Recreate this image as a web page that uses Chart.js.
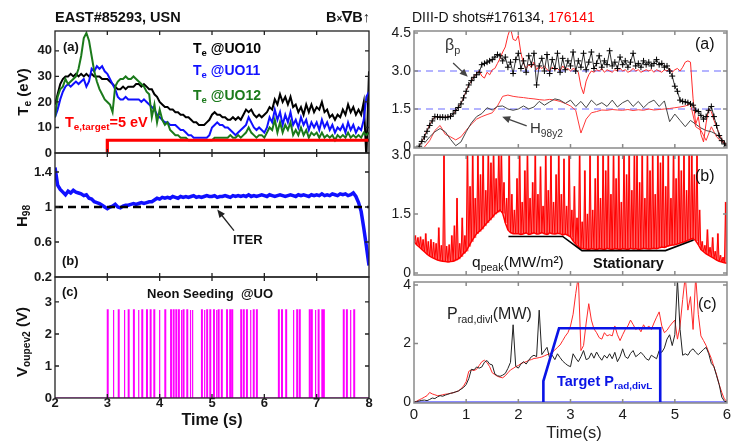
<!DOCTYPE html>
<html>
<head>
<meta charset="utf-8">
<title>EAST / DIII-D detachment control</title>
<script src="https://cdn.jsdelivr.net/npm/chart.js@4.4.1/dist/chart.umd.min.js"></script>
<style>
  body { margin: 0; background: #fff; }
  #page { position: relative; width: 731px; height: 441px; overflow: hidden; font-family: "Liberation Sans", Arial, sans-serif; color: #111; }
  canvas { position: absolute; }
  .t { position: absolute; white-space: nowrap; line-height: 1; }
  .b { font-weight: bold; }
  .t sub { font-size: 68%; vertical-align: -0.35em; line-height: 0; }
  .rot { transform: translate(-50%, -50%) rotate(-90deg); }
  .ctr { transform: translateX(-50%); }
</style>
</head>
<body>
<div id="page">
  <canvas id="eastTe"></canvas>
  <canvas id="eastH98"></canvas>
  <canvas id="eastNeon"></canvas>
  <canvas id="diiiBeta"></canvas>
  <canvas id="diiiQ"></canvas>
  <canvas id="diiiPrad"></canvas>

  <div class="t b" style="left:55px;top:10px;font-size:14.5px">EAST#85293, USN</div>
  <div class="t b" style="left:326px;top:10px;font-size:14.5px">B<span style="font-size:10px">×</span>∇B↑</div>
  <div class="t b" style="left:63px;top:40px;font-size:13px">(a)</div>
  <div class="t b" style="left:193px;top:41px;font-size:14px;color:#000">T<sub>e</sub> @UO10</div>
  <div class="t b" style="left:193px;top:63px;font-size:14px;color:#1010ff">T<sub>e</sub> @UO11</div>
  <div class="t b" style="left:193px;top:88px;font-size:14px;color:#1b7a1b">T<sub>e</sub> @UO12</div>
  <div class="t b" style="left:65px;top:115px;font-size:14.5px;color:#ff0000">T<sub>e,target</sub>=5 eV</div>
  <div class="t b rot" style="left:22px;top:92px;font-size:15px">T<sub>e</sub> (eV)</div>

  <div class="t b" style="left:233px;top:233px;font-size:13px">ITER</div>
  <div class="t b" style="left:62px;top:254px;font-size:13px">(b)</div>
  <div class="t b rot" style="left:21px;top:216px;font-size:15px">H<sub>98</sub></div>

  <div class="t b" style="left:62px;top:285px;font-size:13px">(c)</div>
  <div class="t b" style="left:147px;top:287px;font-size:13px">Neon Seeding&nbsp; @UO</div>
  <div class="t b rot" style="left:21px;top:342px;font-size:15px">V<sub>oupev2</sub> (V)</div>
  <div class="t b ctr" style="left:212px;top:412px;font-size:16px">Time (s)</div>

  <div class="t" style="left:412px;top:10px;font-size:14px">DIII-D shots#176134, <span style="color:#ff0000">176141</span></div>
  <div class="t" style="left:695px;top:36px;font-size:16px">(a)</div>
  <div class="t" style="left:445px;top:37px;font-size:16px;color:#333">β<sub>p</sub></div>
  <div class="t" style="left:530px;top:120px;font-size:15px;color:#333">H<sub>98y2</sub></div>
  <div class="t" style="left:695px;top:168px;font-size:16px">(b)</div>
  <div class="t" style="left:472px;top:254px;font-size:15.5px">q<sub>peak</sub>(MW/m²)</div>
  <div class="t b" style="left:593px;top:256px;font-size:14.5px">Stationary</div>
  <div class="t" style="left:698px;top:296px;font-size:16px">(c)</div>
  <div class="t" style="left:447px;top:306px;font-size:16px;color:#222">P<sub>rad,divl</sub>(MW)</div>
  <div class="t b" style="left:557px;top:374px;font-size:14.5px;color:#0a14e6">Target P<sub>rad,divL</sub></div>
  <div class="t ctr" style="left:574px;top:424px;font-size:16.5px;color:#222">Time(s)</div>
</div>

<script>
"use strict";

// ---------- EAST #85293, samples every 0.05 s from 2 s to 8 s ----------
const eastT0 = 2, eastDt = 0.05;

const eastTeUO10 = [
    19, 23, 27, 29, 30, 30, 31, 30, 31, 30,
    31, 30, 31, 30, 31, 30, 30, 30, 29, 29,
    29, 28, 27, 26, 25, 25, 26, 25, 26, 26,
    26, 27, 27, 26, 27, 26, 25, 25, 23, 22,
    20, 19, 18, 18, 17, 17, 16, 16, 15, 15,
    14, 14, 13, 12, 12, 11, 11, 11, 12, 13,
    15, 16, 15, 15, 14, 14, 13, 13, 14, 13,
    14, 13, 15, 17, 16, 17, 15, 14, 15, 14,
    15, 16, 18, 17, 21, 19, 23, 20, 22, 19,
    22, 18, 19, 16, 18, 15, 19, 16, 19, 16,
    18, 17, 20, 16, 17, 14, 15, 13, 15, 14,
    17, 15, 19, 16, 18, 15, 17, 15, 20, -2,
    32
];
const eastTeUO11 = [
    14, 17, 21, 24, 26, 27, 26, 27, 28, 27,
    28, 29, 26, 28, 33, 32, 34, 33, 34, 32,
    31, 29, 27, 25, 22, 21, 21, 22, 21, 21,
    21, 21, 21, 20, 21, 20, 19, 18, 17, 15,
    14, 13, 12, 12, 11, 11, 11, 10, 9, 9,
    8, 7, 7, 6, 6, 6, 6, 6, 6, 7,
    10, 11, 12, 11, 11, 10, 10, 9, 8, 7,
    8, 9, 10, 11, 14, 12, 10, 9, 10, 9,
    8, 10, 14, 12, 17, 13, 16, 11, 15, 12,
    16, 11, 13, 10, 14, 11, 13, 9, 12, 10,
    12, 9, 13, 10, 12, 9, 11, 8, 10, 9,
    11, 8, 12, 9, 11, 8, 10, 9, 13, 22,
    24
];
const eastTeUO12 = [
    14, 22, 25, 26, 29, 27, 28, 29, 30, 33,
    38, 45, 47, 44, 38, 32, 28, 25, 23, 21,
    20, 19, 16, 26, 28, 29, 29, 30, 29, 29,
    30, 29, 28, 27, 26, 24, 23, 14, 19, 12,
    17, 13, 11, 12, 9, 8, 7, 7, 6, 6,
    6, 5, 5, 5, 5, 5, 5, 5, 5, 5,
    5, 6, 6, 6, 6, 6, 6, 7, 6, 6,
    7, 6, 7, 8, 10, 8, 7, 6, 7, 7,
    6, 8, 10, 9, 13, 8, 12, 8, 11, 9,
    12, 7, 9, 7, 10, 7, 9, 6, 8, 7,
    8, 6, 8, 6, 7, 6, 7, 5, 7, 6,
    7, 6, 8, 6, 7, 6, 7, 6, 8, 7,
    8
];
const eastTargetTime = [3, 3, 8];
const eastTargetTe = [0, 5, 5];

const eastH98 = [
    1.45, 1.25, 1.20, 1.17, 1.14, 1.18, 1.16, 1.19, 1.17, 1.16,
    1.15, 1.13, 1.14, 1.10, 1.09, 1.06, 1.05, 1.04, 1.02, 1.00,
    0.98, 1.00, 1.01, 1.03, 1.00, 0.99, 1.01, 1.02, 1.02, 1.03,
    1.04, 1.03, 1.04, 1.05, 1.04, 1.05, 1.06, 1.06, 1.08, 1.10,
    1.09, 1.11, 1.10, 1.11, 1.10, 1.12, 1.11, 1.10, 1.12, 1.11,
    1.12, 1.11, 1.12, 1.13, 1.11, 1.12, 1.11, 1.12, 1.13, 1.12,
    1.12, 1.13, 1.11, 1.12, 1.12, 1.13, 1.12, 1.11, 1.13, 1.12,
    1.13, 1.12, 1.13, 1.12, 1.14, 1.12, 1.13, 1.12, 1.13, 1.14,
    1.13, 1.12, 1.14, 1.13, 1.12, 1.13, 1.14, 1.13, 1.12, 1.13,
    1.14, 1.13, 1.12, 1.14, 1.13, 1.14, 1.13, 1.12, 1.14, 1.13,
    1.14, 1.13, 1.15, 1.13, 1.14, 1.13, 1.15, 1.14, 1.13, 1.15,
    1.14, 1.15, 1.13, 1.14, 1.16, 1.12, 1.05, 0.95, 0.76, 0.55,
    0.33
];
const eastIterH98 = 1;

const neonPulseTimes = [
    3.00, 3.11, 3.21, 3.32, 3.40, 3.50, 3.59, 3.66, 3.75, 3.82, 3.89, 3.99, 4.10,
    4.21, 4.26, 4.31, 4.36, 4.41, 4.45, 4.52, 4.58, 4.62,
    4.80, 4.85, 4.90, 4.96, 5.03, 5.08, 5.12, 5.18, 5.28, 5.34, 5.38,
    5.55, 5.60, 5.66, 5.73, 5.79, 5.85,
    6.27, 6.33, 6.41, 6.55, 6.62, 6.67,
    6.86, 6.90, 6.97, 7.03, 7.10, 7.13,
    7.51, 7.57, 7.64, 7.71
];
const neonPulseVolts = 2.75;
const neonPulseWidth = 0.015;

const eastTimeTicks = [2, 3, 4, 5, 6, 7, 8];
const eastTeTicks = [0, 10, 20, 30, 40];
const eastH98Ticks = [0.2, 0.6, 1, 1.4];
const eastVoltTicks = [0, 1, 2, 3];

// ---------- DIII-D #176134 (black) / #176141 (red), 0 - 6 s ----------
const diiiT0 = 0, diiiDt = 0.05, diiiDtCoarse = 0.1;

const betaP176134 = [
    null, null, 0.03, 0.22, 0.40, 0.62, 0.85, 1.03, 1.20, 1.19,
    1.17, 1.18, 1.16, 1.18, 1.21, 1.31, 1.44, 1.56, 1.70, 1.94,
    2.20, 2.45, 2.62, 2.75, 2.85, 2.95, 3.25, 3.30, 3.35, 3.40,
    3.45, 3.55, 3.65, 3.60, 3.40, 3.55, 3.15, 3.35, 2.90, 3.45,
    3.70, 3.10, 3.40, 2.95, 3.60, 3.25, 3.70, 2.45, 3.20, 3.50,
    3.00, 3.65, 2.90, 3.45, 3.10, 3.70, 2.95, 3.50, 3.05, 3.40,
    3.20, 3.75, 3.00, 3.40, 3.15, 3.70, 3.05, 3.35, 3.75, 3.10,
    3.30, 3.60, 3.15, 3.40, 3.25, 3.80, 3.20, 3.35, 3.10, 3.55,
    3.25, 3.40, 3.15, 3.35, 3.70, 3.20, 3.30, 3.15, 3.40, 3.25,
    3.35, 3.20, 3.30, 3.45, 3.25, 3.30, 3.15, 3.20, 3.00, 2.80,
    2.40, 2.20, 1.85, 1.80, 1.78, 1.75, 1.70, 1.65, 1.45, 1.40,
    1.25, 1.10, 1.20, 1.45, 1.60, 1.20, 0.85, 0.45, 0.25, 0.12,
    0.05
];
const betaP176141 = [
    null, null, 0.03, 0.20, 0.42, 0.65, 0.88, 1.05, 1.20, 1.18,
    1.18, 1.17, 1.17, 1.19, 1.22, 1.30, 1.42, 1.58, 1.72, 1.95,
    2.20, 2.45, 2.60, 2.78, 2.90, 3.00, 2.80, 2.72, 2.95, 2.85,
    3.05, 3.10, 3.30, 3.50, 3.75, 3.95, 4.40, 4.70, 4.25, 4.20,
    4.40, 3.70, 3.30, 3.10, 3.25, 3.15, 3.35, 3.05, 3.20, 3.10,
    3.20, 3.05, 3.00, 3.15, 3.05, 3.10, 3.00, 3.20, 3.05, 3.10,
    3.00, 3.10, 3.05, 2.95, 2.40, 2.10, 2.60, 2.85, 3.00, 2.95,
    3.05, 3.00, 3.10, 2.95, 3.05, 3.00, 2.95, 3.05, 3.00, 3.10,
    3.00, 3.05, 2.95, 3.00, 3.10, 3.00, 3.05, 2.95, 3.00, 3.05,
    3.00, 3.05, 2.95, 3.05, 3.00, 2.95, 3.05, 3.00, 3.10, 2.95,
    3.05, 3.10, 3.00, 3.15, 3.35, 3.40, 3.35, 1.90, 0.90, 1.20,
    0.50, 0.20, 0.95, 1.50, 1.40, 1.05, 0.80, 0.50, 0.30, 0.15,
    0.05
];
// every 0.1 s
const h98y2_176134 = [
    null, null, 0.15, 0.40, 0.60, 0.73, 0.60, 0.30, 0.05, 0.20,
    0.60, 0.95, 1.20, 1.32, 1.55, 1.46, 1.60, 1.62, 1.50, 1.45,
    1.50, 1.62, 1.50, 1.58, 1.80, 1.65, 1.78, 1.90, 1.85, 1.72,
    1.85, 1.60, 1.80, 1.55, 1.85, 1.65, 1.75, 1.60, 1.85, 1.58,
    1.75, 1.85, 1.60, 1.80, 1.55, 1.75, 1.85, 1.60, 1.82, 1.00,
    1.30, 1.05, 0.80, 1.05, 0.90, 0.75, 0.65, 0.60, 0.50, 0.30,
    0.10
];
const h98y2_176141 = [
    null, null, 0.00, 0.25, 0.65, 0.85, 0.50, 0.40, 0.28, 0.40,
    0.66, 0.90, 1.10, 1.20, 1.28, 1.35, 1.62, 2.00, 2.05, 2.00,
    1.97, 1.95, 1.92, 1.90, 1.87, 1.85, 1.88, 1.85, 1.80, 1.72,
    1.62, 1.45, 0.55, 1.10, 1.35, 1.40, 1.46, 1.45, 1.48, 1.46,
    1.45, 1.48, 1.44, 1.47, 1.45, 1.50, 1.46, 1.48, 1.50, 1.52,
    1.55, 1.58, 1.62, 1.70, 0.80, 0.66, 0.26, 0.80, 0.40, 0.20,
    0.10
];
const betaRefLevels = [3.0, 1.5];

// q_peak: lower envelope every 0.05 s, spike tops half way between
const qpeakBase = [
    0.80, 0.72, 0.66, 0.60, 0.54, 0.48, 0.43, 0.39, 0.36, 0.33,
    0.31, 0.30, 0.29, 0.28, 0.29, 0.30, 0.33, 0.36, 0.42, 0.50,
    0.56, 0.68, 0.80, 0.90, 1.00, 1.06, 1.12, 1.20, 1.28, 1.35,
    1.42, 1.50, 1.55, 1.60, 1.52, 1.28, 1.10, 1.03, 1.00, 1.00,
    1.00, 0.98, 1.00, 1.02, 0.98, 1.00, 1.02, 0.99, 1.00, 1.03,
    1.00, 0.98, 1.02, 1.00, 0.99, 1.01, 1.00, 0.97, 0.99, 0.96,
    0.92, 0.82, 0.74, 0.67, 0.63, 0.62, 0.61, 0.60, 0.62, 0.61,
    0.60, 0.62, 0.61, 0.60, 0.63, 0.61, 0.60, 0.62, 0.61, 0.60,
    0.62, 0.61, 0.60, 0.63, 0.61, 0.62, 0.60, 0.61, 0.63, 0.62,
    0.61, 0.62, 0.63, 0.62, 0.64, 0.66, 0.65, 0.68, 0.70, 0.71,
    0.72, 0.74, 0.76, 0.78, 0.80, 0.83, 0.86, 0.88, 0.82, 0.72,
    0.60, 0.54, 0.49, 0.45, 0.41, 0.37, 0.33, 0.30, 0.28, 0.26,
    0.25
];
const qpeakSpike = [
    0.95, 0.90, 0.92, 0.85, 1.00, 0.80, 0.85, 0.78, 0.75, 1.15,
    0.70, 3.10, 0.68, 0.72, 0.95, 1.20, 1.90, 0.75, 1.40, 0.95,
    3.10, 2.20, 3.10, 1.90, 3.10, 2.50, 3.10, 2.10, 3.10, 2.80,
    3.10, 2.40, 3.10, 3.10, 2.30, 1.90, 3.10, 2.00, 1.60, 2.40,
    3.10, 1.80, 2.60, 3.10, 1.90, 2.30, 3.10, 2.00, 2.70, 1.70,
    3.10, 2.10, 3.10, 1.80, 2.50, 3.10, 2.00, 2.90, 1.70, 3.10,
    1.60, 2.20, 1.40, 3.10, 1.30, 2.60, 1.50, 3.10, 1.60, 2.40,
    3.10, 1.90, 3.10, 2.60, 3.10, 2.00, 3.10, 2.40, 3.10, 1.80,
    3.10, 2.50, 3.10, 2.10, 3.10, 3.10, 2.30, 3.10, 1.90, 3.10,
    2.60, 3.10, 2.00, 3.10, 2.80, 3.10, 2.20, 3.10, 1.90, 3.10,
    2.40, 3.10, 2.60, 3.10, 2.10, 3.10, 3.10, 2.50, 3.10, 1.60,
    0.80, 0.70, 1.10, 0.65, 0.90, 0.55, 1.00, 0.45, 0.40, 1.80
];
const stationaryTime = [1.81, 2.85, 3.22, 4.82, 5.36];
const stationaryQ = [0.93, 0.93, 0.57, 0.57, 0.84];

const pradDivl176134 = [
    0.00, 0.02, 0.04, 0.06, 0.07, 0.05, 0.09, 0.14, 0.12, 0.18,
    0.22, 0.20, 0.24, 0.27, 0.30, 0.32, 0.35, 0.38, 0.44, 0.50,
    0.60, 0.80, 1.12, 1.10, 1.20, 1.16, 1.20, 1.36, 1.42, 1.30,
    1.27, 0.96, 0.90, 0.88, 0.92, 0.98, 1.15, 1.36, 2.64, 1.22,
    1.16, 1.30, 1.38, 1.30, 1.43, 1.55, 1.60, 1.55, 3.14, 1.62,
    1.75, 1.87, 1.50, 1.60, 1.45, 1.65, 1.52, 1.40, 1.32, 1.25,
    1.21, 1.65, 1.50, 1.38, 1.55, 1.76, 1.45, 1.49, 1.68, 1.50,
    1.71, 1.55, 1.43, 1.60, 1.50, 1.65, 1.48, 1.70, 1.38, 1.55,
    1.82, 1.55, 1.49, 1.66, 1.76, 1.55, 1.62, 1.70, 1.60, 1.48,
    1.43, 1.60, 1.54, 1.48, 1.76, 1.70, 1.85, 2.15, 2.30, 1.93,
    2.30, 4.20, 2.48, 1.60, 1.65, 1.60, 1.75, 1.82, 1.70, 1.62,
    1.71, 1.80, 1.87, 1.65, 1.32, 1.21, 0.90, 0.60, 0.17, 0.03,
    0.01
];
const pradDivl176141 = [
    0.00, 0.03, 0.08, 0.12, 0.17, 0.22, 0.33, 0.28, 0.25, 0.22,
    0.23, 0.25, 0.27, 0.28, 0.30, 0.32, 0.35, 0.38, 0.45, 0.55,
    0.70, 1.05, 1.10, 1.08, 1.12, 1.25, 1.38, 1.43, 1.35, 1.21,
    1.00, 0.94, 0.88, 0.85, 0.83, 0.90, 1.00, 1.10, 1.15, 1.21,
    1.25, 1.32, 1.35, 1.38, 1.43, 1.45, 1.49, 1.50, 1.52, 1.54,
    1.58, 1.62, 1.65, 1.70, 1.78, 1.87, 1.95, 2.10, 2.25, 2.37,
    2.60, 3.00, 3.70, 4.30, 1.76, 1.93, 2.70, 3.36, 2.80, 2.50,
    2.37, 2.20, 2.15, 2.37, 2.26, 2.30, 2.26, 2.60, 2.30, 2.10,
    2.30, 2.48, 2.60, 2.80, 2.65, 2.48, 2.55, 2.40, 2.64, 2.50,
    2.60, 2.48, 2.70, 2.90, 3.08, 2.60, 2.37, 2.45, 2.59, 2.70,
    2.80, 2.15, 2.60, 3.50, 4.30, 3.14, 3.60, 2.48, 4.30, 3.00,
    2.26, 2.10, 1.93, 1.70, 1.49, 1.20, 0.94, 0.60, 0.33, 0.10,
    0.03
];
const targetPradTime = [2.48, 2.48, 2.78, 4.72, 4.72];
const targetPradMW = [0, 0.72, 2.52, 2.52, 0];

const diiiTimeTicks = [0, 1, 2, 3, 4, 5, 6];
const diiiBetaTicks = [0, 1.5, 3, 4.5];
const diiiQTicks = [0, 1.5, 3];
const diiiPradTicks = [0, 2, 4];

// ---------- helpers ----------
function onGrid(t0, dt, values) {
    return values.map(function (v, i) { return { x: t0 + i * dt, y: v }; });
}

function pairs(xs, ys) {
    return xs.map(function (x, i) { return { x: x, y: ys[i] }; });
}

function level(y, x0, x1) {
    return [{ x: x0, y: y }, { x: x1, y: y }];
}

function pulseTrain(times, width, height, t0, t1) {
    var pts = [{ x: t0, y: 0 }];
    times.forEach(function (t) {
        pts.push({ x: t, y: 0 }, { x: t, y: height }, { x: t + width, y: height }, { x: t + width, y: 0 });
    });
    pts.push({ x: t1, y: 0 });
    return pts;
}

function spikyTrace(t0, dt, base, spikes) {
    var pts = [];
    base.forEach(function (b, i) {
        var t = t0 + i * dt;
        pts.push({ x: t, y: b });
        if (i < spikes.length) pts.push({ x: t + dt / 2, y: spikes[i] });
    });
    return pts;
}

// floating bars from the envelope up to each spike top
function spikeBars(t0, dt, base, spikes) {
    return spikes.map(function (s, i) { return { x: t0 + i * dt + dt / 2, y: [base[i], s] }; });
}

function line(points, color, width, extra) {
    return Object.assign({ data: points, borderColor: color, borderWidth: width, pointRadius: 0, fill: false }, extra || {});
}

// box frame, inward ticks and annotation arrows
const framePlugin = {
    id: 'frame',
    afterDatasetsDraw: function (chart) {
        var o = chart.options.plugins.frame;
        var ctx = chart.ctx, a = chart.chartArea, x = chart.scales.x, y = chart.scales.y;
        ctx.save();
        ctx.strokeStyle = o.color;
        ctx.lineWidth = o.width;
        ctx.beginPath();
        x.ticks.forEach(function (t) {
            var px = x.getPixelForValue(t.value);
            if (px <= a.left + 1 || px >= a.right - 1) return;
            ctx.moveTo(px, a.bottom); ctx.lineTo(px, a.bottom - o.len);
            ctx.moveTo(px, a.top); ctx.lineTo(px, a.top + o.len);
        });
        y.ticks.forEach(function (t) {
            var py = y.getPixelForValue(t.value);
            if (py <= a.top + 1 || py >= a.bottom - 1) return;
            ctx.moveTo(a.left, py); ctx.lineTo(a.left + o.len, py);
            ctx.moveTo(a.right, py); ctx.lineTo(a.right - o.len, py);
        });
        ctx.stroke();
        ctx.strokeRect(a.left, a.top, a.right - a.left, a.bottom - a.top);

        (o.arrows || []).forEach(function (ar) {
            var x0 = x.getPixelForValue(ar.from[0]), y0 = y.getPixelForValue(ar.from[1]);
            var x1 = x.getPixelForValue(ar.to[0]), y1 = y.getPixelForValue(ar.to[1]);
            var ang = Math.atan2(y1 - y0, x1 - x0);
            ctx.strokeStyle = ar.color; ctx.fillStyle = ar.color; ctx.lineWidth = 1.3;
            ctx.beginPath(); ctx.moveTo(x0, y0); ctx.lineTo(x1 - 5 * Math.cos(ang), y1 - 5 * Math.sin(ang)); ctx.stroke();
            ctx.beginPath();
            ctx.moveTo(x1, y1);
            ctx.lineTo(x1 - 8 * Math.cos(ang) + 3.5 * Math.sin(ang), y1 - 8 * Math.sin(ang) - 3.5 * Math.cos(ang));
            ctx.lineTo(x1 - 8 * Math.cos(ang) - 3.5 * Math.sin(ang), y1 - 8 * Math.sin(ang) + 3.5 * Math.cos(ang));
            ctx.closePath(); ctx.fill();
        });
        ctx.restore();
    }
};

function axis(min, max, ticks, fmt, font, showLabels, size, horizontal, pad) {
    return {
        type: 'linear', min: min, max: max, offset: false,
        grid: { display: false, drawTicks: false, offset: false },
        border: { display: false },
        ticks: { display: showLabels, font: font, color: '#1a1a1a', padding: pad, autoSkip: false, maxRotation: 0, callback: fmt },
        afterBuildTicks: function (s) { s.ticks = ticks.map(function (v) { return { value: v }; }); },
        afterFit: function (s) {
            if (horizontal) { s.height = size; s.paddingLeft = 0; s.paddingRight = 0; }
            else { s.width = size; s.paddingTop = 0; s.paddingBottom = 0; }
        }
    };
}

function panel(id, box, p) {
    var padT = 9, padR = 8, padB = p.xSize ? 0 : 9;
    var c = document.getElementById(id);
    c.width = box.r - box.l + p.ySize + padR;
    c.height = box.b - box.t + padT + padB + (p.xSize || 0);
    c.style.left = (box.l - p.ySize) + 'px';
    c.style.top = (box.t - padT) + 'px';
    return new Chart(c, {
        type: 'line',
        data: { datasets: p.datasets },
        options: {
            responsive: false, animation: false, events: [],
            layout: { padding: { top: padT, right: padR, bottom: padB, left: 0 } },
            elements: { line: { tension: 0 }, point: { radius: 0 } },
            plugins: {
                legend: { display: false }, tooltip: { enabled: false },
                frame: { color: p.frameColor, width: p.frameWidth, len: 4, arrows: p.arrows }
            },
            scales: {
                x: axis(p.x[0], p.x[1], p.xTicks, function (v) { return String(v); }, p.xFont, !!p.xSize, p.xSize || 0, true, p.xPad),
                y: axis(p.y[0], p.y[1], p.yTicks, p.yFmt, p.yFont, true, p.ySize, false, 3)
            }
        },
        plugins: [framePlugin]
    });
}

var leftTickFont = { family: '"Liberation Sans", Arial, sans-serif', size: 13, weight: 'bold' };
var rightYFont = { family: '"Liberation Sans", Arial, sans-serif', size: 14 };
var rightXFont = { family: '"Liberation Sans", Arial, sans-serif', size: 15 };
var plain = function (v) { return String(v); };
var oneDec = function (v) { return v === 0 ? '0' : v.toFixed(1); };

var eastCommon = { ySize: 55, x: [2, 8], xTicks: eastTimeTicks, xFont: leftTickFont, xPad: -2, yFont: leftTickFont, yFmt: plain, frameColor: '#222', frameWidth: 1.3 };
var diiiCommon = { ySize: 42, x: [0, 6], xTicks: diiiTimeTicks, xFont: rightXFont, xPad: 3, yFont: rightYFont, frameColor: '#8a8a8a', frameWidth: 1.5 };

panel('eastTe', { l: 55, t: 31, r: 369, b: 153 }, Object.assign({}, eastCommon, {
    y: [0, 47.8], yTicks: eastTeTicks,
    datasets: [
        line(pairs(eastTargetTime, eastTargetTe), '#ff0000', 3.2),
        line(onGrid(eastT0, eastDt, eastTeUO12), '#1b7a1b', 2),
        line(onGrid(eastT0, eastDt, eastTeUO11), '#1010ff', 2),
        line(onGrid(eastT0, eastDt, eastTeUO10), '#000000', 2)
    ]
}));

panel('eastH98', { l: 55, t: 153, r: 369, b: 277 }, Object.assign({}, eastCommon, {
    y: [0.2, 1.617], yTicks: eastH98Ticks,
    arrows: [{ from: [5.42, 0.73], to: [5.10, 0.97], color: '#222' }],
    datasets: [
        line(level(eastIterH98, 2, 8), '#000000', 2.5, { borderDash: [8, 5] }),
        line(onGrid(eastT0, eastDt, eastH98), '#1010ff', 3.5)
    ]
}));

panel('eastNeon', { l: 55, t: 277, r: 369, b: 398 }, Object.assign({}, eastCommon, {
    y: [0, 3.78], yTicks: eastVoltTicks, xSize: 24,
    datasets: [
        line(pulseTrain(neonPulseTimes, neonPulseWidth, neonPulseVolts, 2, 8), '#ff00ff', 1.2)
    ]
}));

panel('diiiBeta', { l: 414, t: 31, r: 727, b: 148 }, Object.assign({}, diiiCommon, {
    y: [-0.04, 4.58], yTicks: diiiBetaTicks, yFmt: oneDec,
    arrows: [
        { from: [0.75, 3.32], to: [1.03, 2.77], color: '#444' },
        { from: [2.16, 0.83], to: [1.69, 1.19], color: '#444' }
    ],
    datasets: [
        line(onGrid(diiiT0, diiiDt, betaP176134), '#333333', 1, { pointRadius: 3, pointStyle: 'cross', pointBorderColor: '#000', pointBorderWidth: 1 }),
        line(onGrid(diiiT0, diiiDt, betaP176141), '#ff2a2a', 1),
        line(onGrid(diiiT0, diiiDtCoarse, h98y2_176134), '#444444', 1),
        line(onGrid(diiiT0, diiiDtCoarse, h98y2_176141), '#ff3a3a', 1),
        line(level(betaRefLevels[0], 0, 6), '#6a6aff', 1.2, { borderDash: [7, 5] }),
        line(level(betaRefLevels[1], 0, 6), '#6a6aff', 1.2, { borderDash: [7, 5] })
    ]
}));

panel('diiiQ', { l: 414, t: 155, r: 727, b: 275 }, Object.assign({}, diiiCommon, {
    y: [-0.05, 3.0], yTicks: diiiQTicks, yFmt: oneDec,
    datasets: [
        line(pairs(stationaryTime, stationaryQ), '#000000', 1.6),
        line(spikyTrace(diiiT0, diiiDt, qpeakBase, qpeakSpike), '#ff0000', 1),
        {
            type: 'bar', data: spikeBars(diiiT0, diiiDt, qpeakBase, qpeakSpike),
            backgroundColor: 'rgba(255,0,0,0.6)', borderWidth: 0, barThickness: 1.3, grouped: false
        },
        line(onGrid(diiiT0, diiiDt, qpeakBase), '#ff0000', 1.5)
    ]
}));

panel('diiiPrad', { l: 414, t: 282, r: 727, b: 403 }, Object.assign({}, diiiCommon, {
    y: [-0.03, 4.1], yTicks: diiiPradTicks, yFmt: plain, xSize: 24,
    datasets: [
        line(pairs(targetPradTime, targetPradMW), '#0a14e6', 2.6),
        line(onGrid(diiiT0, diiiDt, pradDivl176134), '#222222', 1),
        line(onGrid(diiiT0, diiiDt, pradDivl176141), '#ff2a2a', 1),
        line(level(0, 0, 6), '#8a8aff', 2)
    ]
}));
</script>
</body>
</html>
